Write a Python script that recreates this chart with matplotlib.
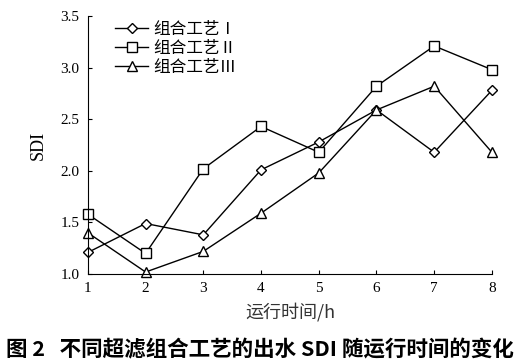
import matplotlib
matplotlib.use("Agg")
import matplotlib.pyplot as plt

plt.rcParams['font.family'] = ['Liberation Serif', 'Noto Sans CJK SC']

hours = [1, 2, 3, 4, 5, 6, 7, 8]
sdi_1 = [1.21, 1.49, 1.38, 2.01, 2.28, 2.59, 2.18, 2.78]
sdi_2 = [1.58, 1.20, 2.02, 2.43, 2.18, 2.82, 3.21, 2.98]
sdi_3 = [1.40, 1.02, 1.22, 1.59, 1.98, 2.59, 2.82, 2.18]
labels = ['组合工艺Ⅰ', '组合工艺Ⅱ', '组合工艺Ⅲ']
markers = ['D', 's', '^']
sizes = [5, 7, 7]

fig = plt.figure(figsize=(5.2, 3.64), dpi=100)
ax = fig.add_axes([0.169, 0.247, 0.777, 0.709])

for ys, lab, m, ms in zip([sdi_1, sdi_2, sdi_3], labels, markers, sizes):
    ax.plot(hours, ys, color='black', lw=1, marker=m, ms=ms,
            mfc='white', mec='black', mew=1, label=lab, clip_on=False)

ax.set_xlim(1, 8)
ax.set_ylim(1.0, 3.5)
ax.set_xticks(hours)
ax.set_yticks([1.0, 1.5, 2.0, 2.5, 3.0, 3.5])
ax.set_yticklabels(['1.0', '1.5', '2.0', '2.5', '3.0', '3.5'])
ax.spines['top'].set_visible(False)
ax.spines['right'].set_visible(False)
ax.tick_params(direction='in', length=3, labelsize=11, pad=6)

ax.set_ylabel('SDI', fontsize=13, labelpad=10)
ax.set_xlabel('运行时间/h', fontsize=13, labelpad=5,
              family=['Noto Sans CJK SC'], color='#333333')

leg = ax.legend(loc='upper left', bbox_to_anchor=(0.03, 1.04), frameon=False,
                prop={'family': ['Noto Sans CJK SC'], 'size': 12},
                handlelength=2.0, labelspacing=0.12, handletextpad=0.3)

fig.text(0.5, 0.038, '图 2   不同超滤组合工艺的出水 SDI 随运行时间的变化',
         ha='center', va='center', fontsize=15.5, fontweight='bold',
         family=['Noto Sans CJK SC'])

fig.savefig('out.png', dpi=100)
